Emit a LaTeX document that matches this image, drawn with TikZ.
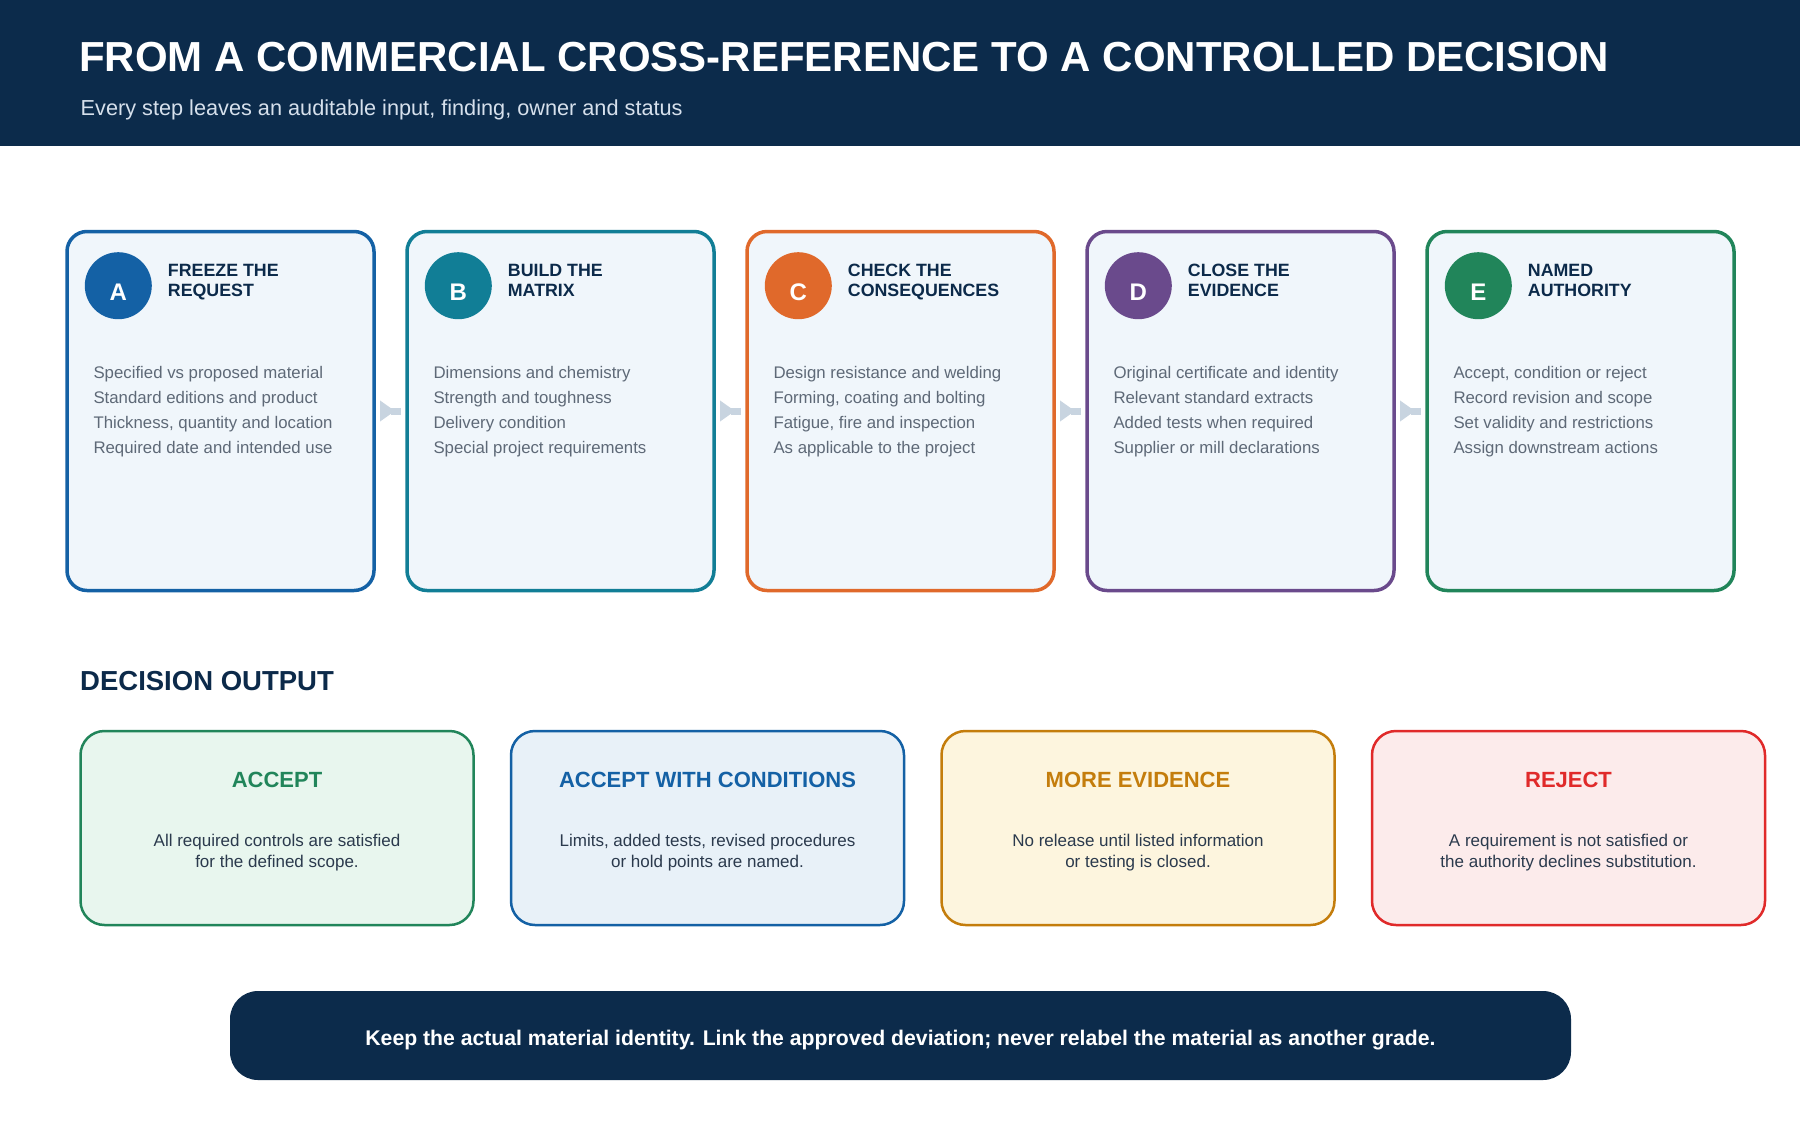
\documentclass[tikz,border=0pt]{standalone}
\usepackage{fontspec}
\setmainfont{Liberation Sans}
\usetikzlibrary{arrows.meta,calc}
\definecolor{navy}{HTML}{0C2B4B}
\definecolor{subtxt}{HTML}{D6E0EC}
\definecolor{cardfill}{HTML}{F0F6FB}
\definecolor{titletxt}{HTML}{0C2A4A}
\definecolor{bodygrey}{HTML}{5E6977}
\definecolor{decbody}{HTML}{2B3A4D}
\definecolor{arrowc}{HTML}{C8D4E0}
\definecolor{colA}{HTML}{1461A5}
\definecolor{colB}{HTML}{117E96}
\definecolor{colC}{HTML}{E0692B}
\definecolor{colD}{HTML}{6A4A8C}
\definecolor{colE}{HTML}{21855A}
\definecolor{accfill}{HTML}{E8F6EE}
\definecolor{condfill}{HTML}{E8F1F8}
\definecolor{morecol}{HTML}{C47D0C}
\definecolor{morefill}{HTML}{FDF5DE}
\definecolor{rejcol}{HTML}{E02A2A}
\definecolor{rejfill}{HTML}{FCEBEB}

\newcommand\stepcard[6]{%
  \pgfmathsetmacro\cx{67+340*#2}
  \node[card, draw=#3] (#1) at (\cx,231.5) {};
  \node[badge, fill=#3] (#1b) at (\cx+51.3,285.7) {};
  \node[badgetxt] (#1l) at ($(#1b.center)+(0,15)$) {#4};
  \foreach \t [count=\i] in {#5}
    \node[cardtitle] (#1t\i) at (\cx+100.7,257.4+19.3*\i) {\t};
  \foreach \t [count=\i] in {#6}
    \node[cardbody] (#1d\i) at (\cx+26.3,353.1+25.2*\i) {\t};
}
\newcommand\decbox[7]{%
  \pgfmathsetmacro\dx{#2}
  \node[decision, draw=#3, fill=#4] (#1) at (\dx,731) {};
  \node[dectitle, text=#3] (#1t) at (\dx+196.5,787) {#5};
  \node[decbodytxt] (#1d1) at (\dx+196.5,846) {#6};
  \node[decbodytxt] (#1d2) at (\dx+196.5,867) {#7};
}

\begin{document}
\begin{tikzpicture}[x=1pt,y=-1pt,
  card/.style={line width=3.5pt, fill=cardfill, rounded corners=20pt,
    minimum width=307pt, minimum height=359pt, anchor=north west,
    inner sep=0pt, outer sep=0pt},
  badge/.style={circle, minimum size=67pt, inner sep=0pt},
  badgetxt/.style={anchor=base, inner sep=0pt, text=white,
    font=\bfseries\fontsize{24}{24}\selectfont},
  cardtitle/.style={anchor=base west, inner sep=0pt, text=titletxt,
    font=\bfseries\fontsize{17.8}{19}\selectfont},
  cardbody/.style={anchor=base west, inner sep=0pt, text=bodygrey,
    font=\fontsize{16.8}{25}\selectfont},
  flow/.style={draw=arrowc, line width=7pt, shorten <=6pt, shorten >=6pt,
    {Triangle[reversed,length=15pt,width=20pt]}-},
  decision/.style={line width=2.5pt, rounded corners=24pt, minimum width=393pt,
    minimum height=194pt, anchor=north west, inner sep=0pt, outer sep=0pt},
  dectitle/.style={anchor=base, inner sep=0pt, font=\bfseries\fontsize{22}{24}\selectfont},
  decbodytxt/.style={anchor=base, inner sep=0pt, text=decbody,
    font=\fontsize{17}{21}\selectfont},
  banner/.style={fill=navy, rounded corners=28pt, minimum width=1341pt,
    minimum height=89pt, inner sep=0pt, outer sep=0pt},
  bannertxt/.style={inner sep=0pt, text=white,
    font=\bfseries\fontsize{21.2}{24}\selectfont}
]
\useasboundingbox (0,0) rectangle (1800,1120);
\fill[white] (0,0) rectangle (1800,1120);
% header
\fill[navy] (0,0) rectangle (1800,146);
\node[anchor=base west, inner sep=0pt, text=white, font=\bfseries\fontsize{42}{44}\selectfont]
  (title) at (79,71.7) {FROM A COMMERCIAL CROSS-REFERENCE TO A CONTROLLED DECISION};
\node[anchor=base west, inner sep=0pt, text=subtxt, font=\fontsize{21.7}{24}\selectfont]
  (subtitle) at (80.5,115.7) {Every step leaves an auditable input, finding, owner and status};

% step cards
\stepcard{cA}{0}{colA}{A}{FREEZE THE,REQUEST}{Specified vs proposed material, Standard editions and product, {Thickness, quantity and location}, Required date and intended use}
\stepcard{cB}{1}{colB}{B}{BUILD THE,MATRIX}{Dimensions and chemistry, Strength and toughness, Delivery condition, Special project requirements}
\stepcard{cC}{2}{colC}{C}{CHECK THE,CONSEQUENCES}{Design resistance and welding, {Forming, coating and bolting}, {Fatigue, fire and inspection}, As applicable to the project}
\stepcard{cD}{3}{colD}{D}{CLOSE THE,EVIDENCE}{Original certificate and identity, Relevant standard extracts, Added tests when required, Supplier or mill declarations}
\stepcard{cE}{4}{colE}{E}{NAMED,AUTHORITY}{{Accept, condition or reject}, Record revision and scope, Set validity and restrictions, Assign downstream actions}

\draw[flow] (cA) -- (cB);
\draw[flow] (cB) -- (cC);
\draw[flow] (cC) -- (cD);
\draw[flow] (cD) -- (cE);

% decision output
\node[anchor=base west, inner sep=0pt, text=titletxt, font=\bfseries\fontsize{27.5}{30}\selectfont]
  (dechead) at (80,690) {DECISION OUTPUT};
\decbox{acc}{80.5}{colE}{accfill}{ACCEPT}{All required controls are satisfied}{for the defined scope.}
\decbox{cond}{511}{colA}{condfill}{ACCEPT WITH CONDITIONS}{Limits, added tests, revised procedures}{or hold points are named.}
\decbox{more}{941.5}{morecol}{morefill}{MORE EVIDENCE}{No release until listed information}{or testing is closed.}
\decbox{rej}{1372}{rejcol}{rejfill}{REJECT}{A requirement is not satisfied or}{the authority declines substitution.}

% banner
\node[banner] (note) at (900.5,1035.5) {};
\node[bannertxt] (notetxt) at ($(note.center)+(0,5)$)
  {Keep the actual material identity. Link the approved deviation; never relabel the material as another grade.};
\end{tikzpicture}
\end{document}
